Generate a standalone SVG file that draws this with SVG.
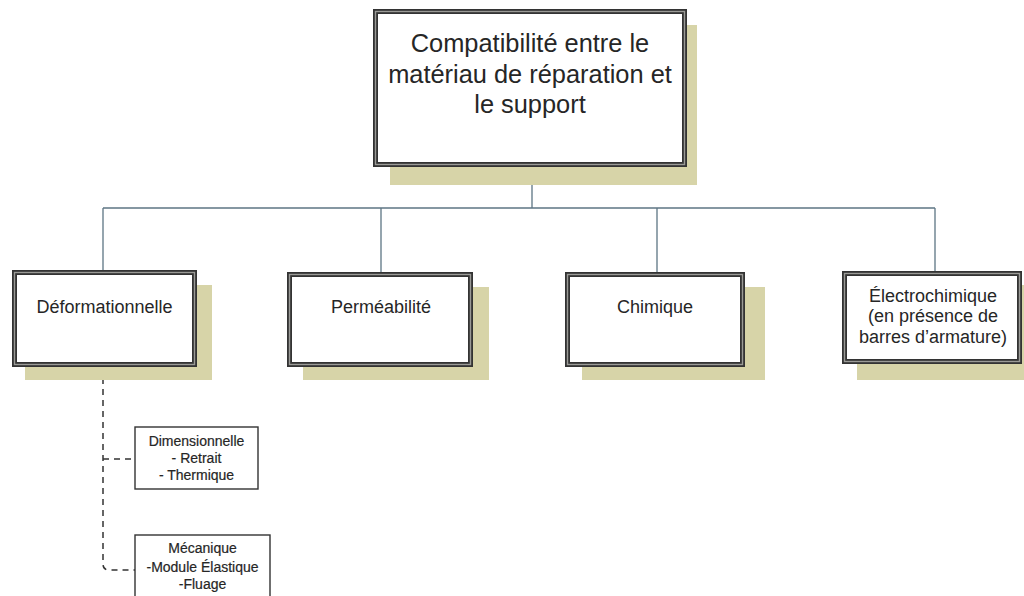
<svg xmlns="http://www.w3.org/2000/svg" width="1024" height="596" viewBox="0 0 1024 596">
  <defs>
    <style>
      .shadow { fill: #d7d4a8; }
      .frame { fill: #ffffff; stroke: #333333; stroke-width: 5; }
      .frame-mid { fill: none; stroke: #9a9a96; stroke-width: 1.4; }
      .small { fill: #ffffff; stroke: #333333; stroke-width: 1.4; }
      .lbl { font-family: "Liberation Sans", Arial, sans-serif; fill: #262626; text-anchor: middle; }
      .big { font-size: 25.4px; }
      .mid { font-size: 18px; }
      .sub { font-size: 14px; stroke: #262626; stroke-width: 0.2; }
      .tree { fill: none; stroke: #5d7684; stroke-width: 1.3; }
      .dash { fill: none; stroke: #333333; stroke-width: 1.5; stroke-dasharray: 6 5; }
    </style>
  </defs>

  <rect width="1024" height="596" fill="#ffffff"/>

  <!-- connectors -->
  <g id="connectors">
    <path class="tree" d="M532 167 V208 M103 208 H935 M103 208 V270 M381 208 V272 M657 208 V272 M935 208 V271"/>
    <path class="dash" d="M103 367 V564 Q103 570 109 570 H135 M103 459 H135"/>
  </g>

  <!-- root -->
  <g id="root">
    <rect class="shadow" x="390" y="25" width="307" height="160"/>
    <rect class="frame" x="375.5" y="11.5" width="309" height="153"/>
    <rect class="frame-mid" x="375.5" y="11.5" width="309" height="153"/>
    <text class="lbl big" x="530" y="52">Compatibilité entre le</text>
    <text class="lbl big" x="530" y="83">matériau de réparation et</text>
    <text class="lbl big" x="530" y="113">le support</text>
  </g>

  <!-- Déformationnelle -->
  <g id="deformationnelle">
    <rect class="shadow" x="25" y="285" width="187" height="95"/>
    <rect class="frame" x="14.5" y="272.5" width="180" height="92"/>
    <rect class="frame-mid" x="14.5" y="272.5" width="180" height="92"/>
    <text class="lbl mid" x="104.5" y="313">Déformationnelle</text>
  </g>

  <!-- Perméabilité -->
  <g id="permeabilite">
    <rect class="shadow" x="303" y="287" width="186" height="93"/>
    <rect class="frame" x="289.5" y="274.5" width="181" height="90"/>
    <rect class="frame-mid" x="289.5" y="274.5" width="181" height="90"/>
    <text class="lbl mid" x="381" y="313">Perméabilité</text>
  </g>

  <!-- Chimique -->
  <g id="chimique">
    <rect class="shadow" x="582" y="287" width="183" height="93"/>
    <rect class="frame" x="567.5" y="274.5" width="175" height="90"/>
    <rect class="frame-mid" x="567.5" y="274.5" width="175" height="90"/>
    <text class="lbl mid" x="655" y="313">Chimique</text>
  </g>

  <!-- Électrochimique -->
  <g id="electrochimique">
    <rect class="shadow" x="857" y="285" width="167" height="95"/>
    <rect class="frame" x="844.5" y="273.5" width="175" height="88"/>
    <rect class="frame-mid" x="844.5" y="273.5" width="175" height="88"/>
    <text class="lbl mid" x="933" y="302">Électrochimique</text>
    <text class="lbl mid" x="933" y="322">(en présence de</text>
    <text class="lbl mid" x="933" y="343">barres d’armature)</text>
  </g>

  <!-- Dimensionnelle -->
  <g id="dimensionnelle">
    <rect class="small" x="135" y="427" width="123" height="62"/>
    <text class="lbl sub" x="196.5" y="446">Dimensionnelle</text>
    <text class="lbl sub" x="196.5" y="463">- Retrait</text>
    <text class="lbl sub" x="196.5" y="480">- Thermique</text>
  </g>

  <!-- Mécanique -->
  <g id="mecanique">
    <rect class="small" x="135" y="535" width="135" height="68"/>
    <text class="lbl sub" x="202.5" y="553">Mécanique</text>
    <text class="lbl sub" x="202.5" y="572">-Module Élastique</text>
    <text class="lbl sub" x="202.5" y="589">-Fluage</text>
  </g>
</svg>
